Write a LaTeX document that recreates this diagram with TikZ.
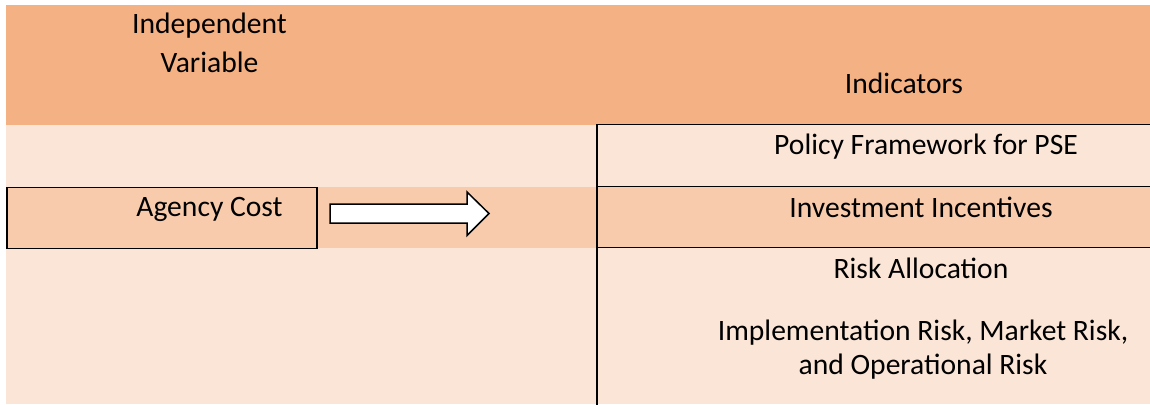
\documentclass[tikz,border=0pt]{standalone}
\usepackage{fontspec}
\setmainfont{Carlito}
\usetikzlibrary{positioning}

\definecolor{headorange}{HTML}{F4B183}
\definecolor{midorange}{HTML}{F8CBAD}
\definecolor{paleorange}{HTML}{FBE5D6}

\tikzset{
	lbl/.style={anchor=base, inner sep=0pt, align=center, font=\fontsize{29.6}{39}\selectfont},
	cellbox/.style={rectangle, draw, inner sep=0pt, anchor=north west}
}

\begin{document}
\begin{tikzpicture}[x=1pt, y=-1pt, line width=1.8pt]
		\useasboundingbox (0,0) rectangle (1150,404);
		% colour bands
		\fill[paleorange] (6,124.5) rectangle (1150,404);
		\fill[headorange] (6,5) rectangle (1150,124.5);
		\fill[midorange] (6,186.5) rectangle (1150,247.5);
		% indicator column
		\coordinate (colnw) at (597,124.5);
		\coordinate (colsw) at (597,406);
		\coordinate (colne) at (1153,124.5);
		\draw (colne) -- (colnw) -- (colsw);
		\draw (597,186.5) -- (1153,186.5);
		\draw (597,247.5) -- (1153,247.5);
		% independent variable box
		\node[cellbox, minimum width=310pt, minimum height=61pt] (agencybox) at (6,186.5) {};
		\node[lbl] (agency) at (209.5,216.5) {Agency Cost};
		\coordinate (tail) at (330,213.5);
		\draw[fill=white, line width=1.5pt] (tail) ++(0,-9.5) -- ++(137,0) -- ++(0,-12) -- (489,213.5) -- (467,235.5) -- ++(0,-12.5) -- ++(-137,0) -- cycle;
		% headings
		\node[lbl] (indep) at (209.5,72) {Independent\\Variable};
		\node[lbl] (indicators) at (904,93) {Indicators};
		% indicators
		\node[lbl] (policy) at (926,154) {Policy Framework for PSE};
		\node[lbl] (invest) at (921,217) {Investment Incentives};
		\node[lbl] (risk) at (921,278) {Risk Allocation};
		\node[lbl, font=\fontsize{29.6}{34}\selectfont] (riskkinds) at (923,374) {Implementation Risk, Market Risk,\\and Operational Risk};
	\end{tikzpicture}
\end{document}
